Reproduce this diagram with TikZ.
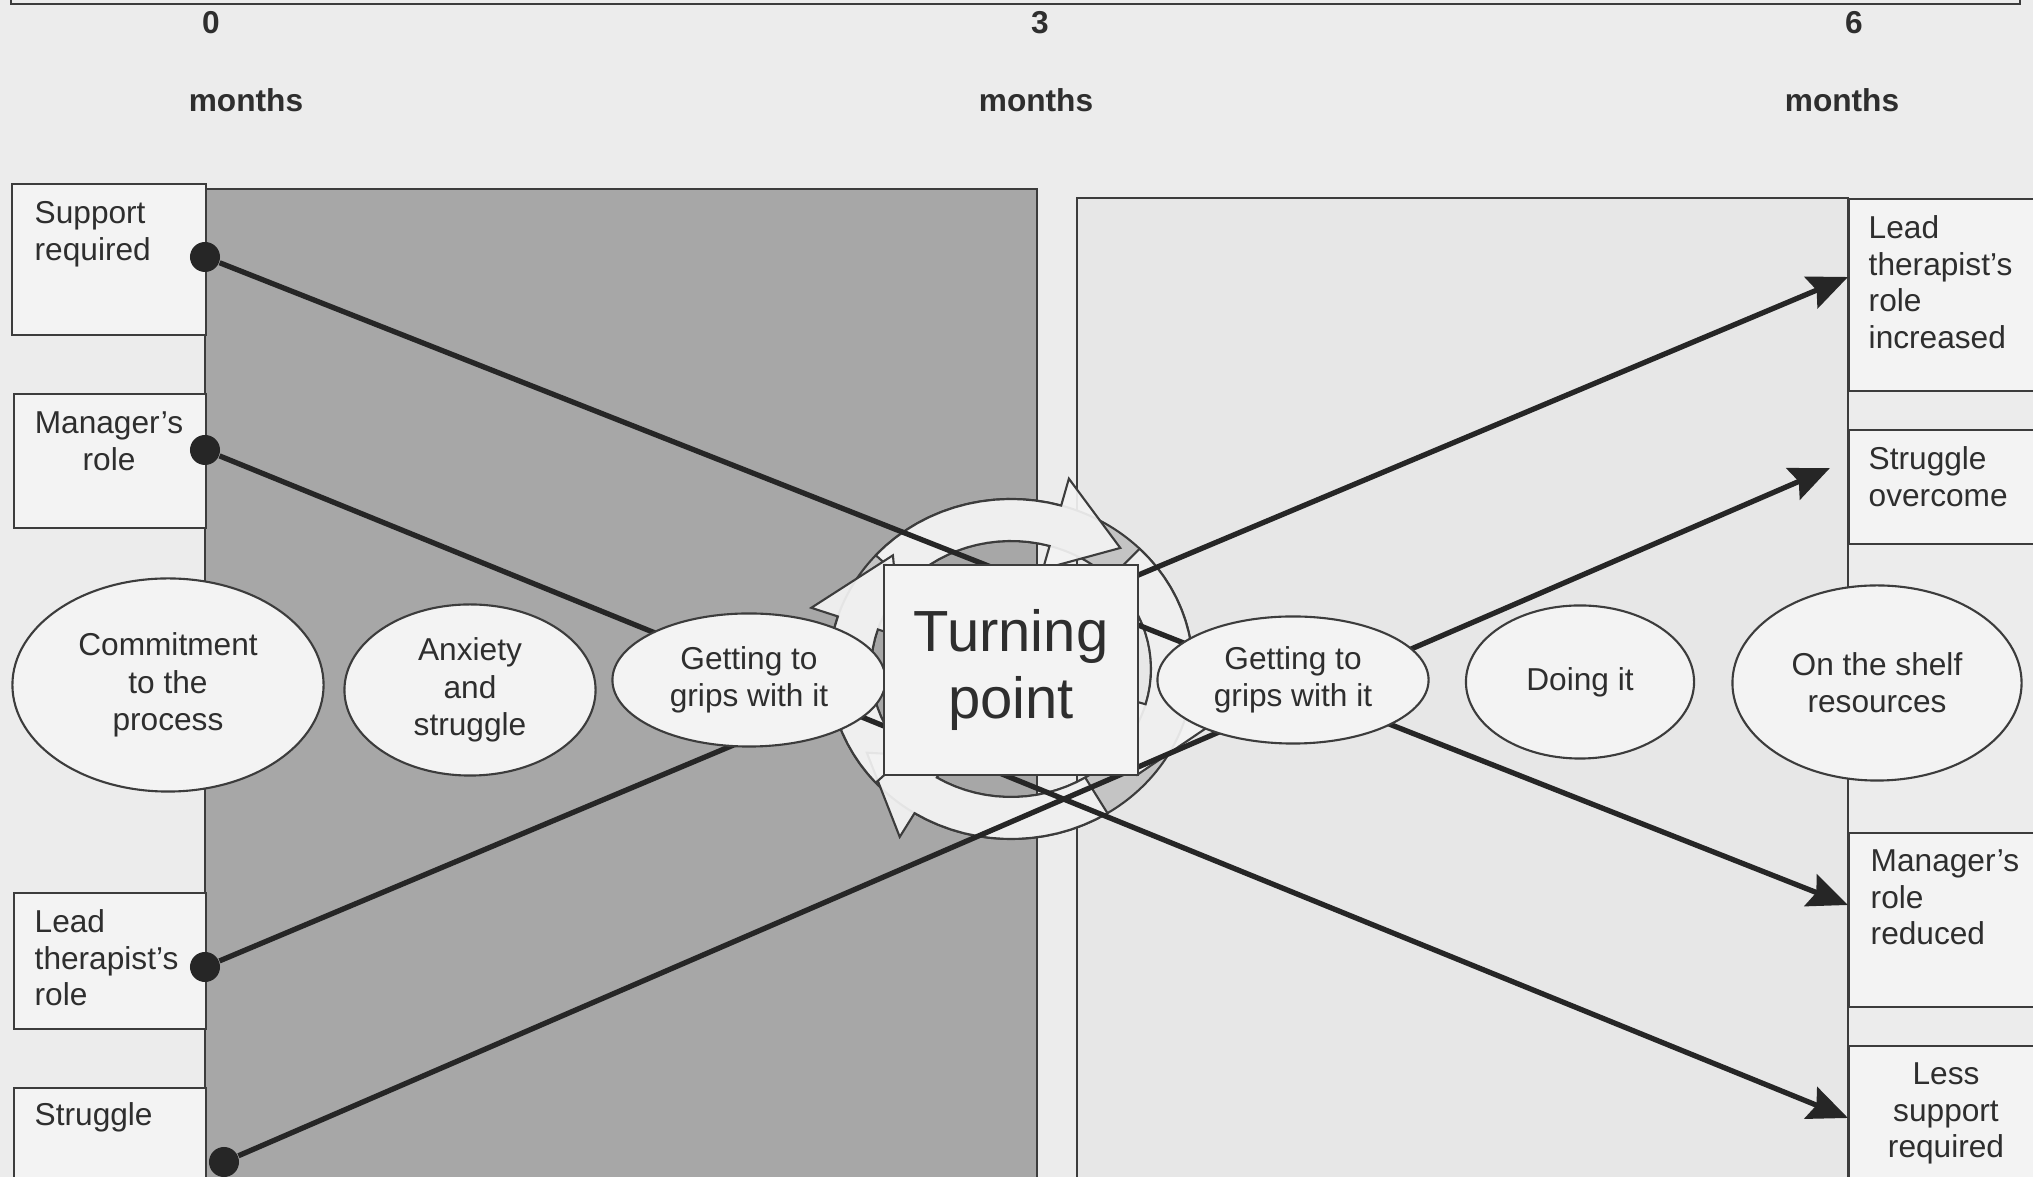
\documentclass[tikz,border=0pt]{standalone}
\usepackage{fontspec}
\setmainfont{Liberation Sans}
\usetikzlibrary{arrows.meta,shapes.geometric}
\definecolor{bgcol}{HTML}{ECECEC}
\definecolor{leftcol}{HTML}{A7A7A7}
\definecolor{rightcol}{HTML}{E7E7E7}
\definecolor{boxcol}{HTML}{F3F3F3}
\definecolor{edgecol}{HTML}{3C3C3C}
\definecolor{linecol}{HTML}{262626}
\definecolor{txtcol}{HTML}{2E2E2E}
\definecolor{ringcol}{HTML}{C4C4C4}
\tikzset{
  edge/.style={draw=edgecol, line width=0.6pt},
  panel/.style={edge},
  lbox/.style={edge, fill=boxcol, rectangle, inner sep=0pt, anchor=north west},
  boxtxt/.style={font=\fontsize{9}{10.4}\selectfont, text=txtcol, inner sep=0pt, align=left, anchor=north west},
  phase/.style={ellipse, edge, fill=boxcol, inner sep=0pt, align=center, font=\fontsize{9}{10.6}\selectfont, text=txtcol},
  tpbox/.style={rectangle, edge, fill=boxcol, inner sep=0pt, align=center, font=\fontsize{16.5}{19}\selectfont, text=txtcol},
  dot/.style={circle, fill=linecol, inner sep=0pt, minimum size=3mm},
  conn/.style={line width=1.5pt, draw=linecol, -{Stealth[length=4mm,width=3.4mm,inset=0.6mm]}},
  tick/.style={font=\fontsize{9}{10.4}\selectfont\bfseries, text=txtcol, inner sep=0pt},
  cycring/.style={edge, fill=ringcol, even odd rule},
  cycarrow/.style={edge, fill=boxcol, fill opacity=0.92}
}
\begin{document}
\begin{tikzpicture}[x=0.01cm,y=-0.01cm]
 \useasboundingbox (0,0) rectangle (2033,1177);
 \fill[bgcol] (0,0) rectangle (2033,1177);
 \draw[edge] (11,-10) -- (11,4) -- (2020,4) -- (2020,-10);
 \node[tick] (n0) at (211,23) {0};
 \node[tick] (n3) at (1040,23) {3};
 \node[tick] (n6) at (1854,23) {6};
 \node[tick] (m0) at (246,100) {months};
 \node[tick] (m3) at (1036,100) {months};
 \node[tick] (m6) at (1842,100) {months};
 \draw[panel, fill=leftcol] (205,189) rectangle (1037,1200);
 \draw[panel, fill=rightcol] (1077,198) rectangle (1848,1200);
 \filldraw[cycring] (1011,669) circle[x radius=182, y radius=170] (1011,669) circle[x radius=140, y radius=128];
 \foreach \ta/\hb/\tp in {222/286/310, -45/16/42, 58/122/148, 138/198/226}
  \filldraw[cycarrow] plot[domain=\ta:\hb, samples=16] ({1011+182*cos(\x)}, {669+170*sin(\x)})
   -- ({1011+210*cos(\hb)}, {669+198*sin(\hb)})
   -- ({1011+170*cos(\tp)}, {669+158*sin(\tp)})
   -- ({1011+116*cos(\hb)}, {669+104*sin(\hb)})
   -- plot[domain=\hb:\ta, samples=16] ({1011+140*cos(\x)}, {669+128*sin(\x)}) -- cycle;
 \node[lbox, minimum width=1.94cm, minimum height=1.51cm] (bsup) at (11,183) {};
 \node[lbox, minimum width=1.92cm, minimum height=1.34cm] (bmgr) at (13,393) {};
 \node[lbox, minimum width=1.92cm, minimum height=1.36cm] (blead) at (13,892) {};
 \node[lbox, minimum width=1.92cm, minimum height=1.13cm] (bstr) at (13,1087) {};
 \node[lbox, minimum width=1.97cm, minimum height=1.92cm] (binc) at (1848,198) {};
 \node[lbox, minimum width=1.97cm, minimum height=1.14cm] (bover) at (1848,429) {};
 \node[lbox, minimum width=1.97cm, minimum height=1.74cm] (bred) at (1848,832) {};
 \node[lbox, minimum width=1.97cm, minimum height=1.55cm] (bless) at (1848,1045) {};
 \node[boxtxt] (tsup) at (34,201) {Support\\required};
 \node[boxtxt, anchor=north, align=center] (tmgr) at (109,411) {Manager’s\\role};
 \node[boxtxt] (tlead) at (34,909) {Lead\\therapist’s\\role};
 \node[boxtxt] (tstr) at (34,1102) {Struggle};
 \node[boxtxt] (tinc) at (1868,215) {Lead\\therapist’s\\role\\increased};
 \node[boxtxt] (tover) at (1868,446) {Struggle\\overcome};
 \node[boxtxt] (tred) at (1870,849) {Manager’s\\role\\reduced};
 \node[boxtxt, anchor=north, align=center] (tless) at (1946,1062) {Less\\support\\required};
 \node[dot] (dsup) at (205,257) {};
 \node[dot] (dmgr) at (205,450) {};
 \node[dot] (dlead) at (205,967) {};
 \node[dot] (dstr) at (224,1162) {};
 \coordinate (emgr) at (1848,905);
 \coordinate (eless) at (1848,1118);
 \coordinate (einc) at (1848,277);
 \coordinate (eover) at (1830,468);
 \draw[conn] (dsup) -- (emgr);
 \draw[conn] (dmgr) -- (eless);
 \draw[conn] (dlead) -- (einc);
 \draw[conn] (dstr) -- (eover);
 \node[phase, minimum width=3.11cm, minimum height=2.13cm] (commit) at (168,685) {Commitment\\to the\\process};
 \node[phase, minimum width=2.51cm, minimum height=1.71cm] (anx) at (470,690) {Anxiety\\and\\struggle};
 \node[phase, minimum width=2.73cm, minimum height=1.33cm] (gripl) at (749,680) {Getting to\\grips with it};
 \node[tpbox, minimum width=2.53cm, minimum height=2.10cm] (tp) at (1011,670) {Turning\\point};
 \node[phase, minimum width=2.71cm, minimum height=1.27cm] (gripr) at (1293,680) {Getting to\\grips with it};
 \node[phase, minimum width=2.28cm, minimum height=1.53cm] (doing) at (1580,682) {Doing it};
 \node[phase, minimum width=2.89cm, minimum height=1.95cm] (shelf) at (1877,683) {On the shelf\\resources};
\end{tikzpicture}
\end{document}
